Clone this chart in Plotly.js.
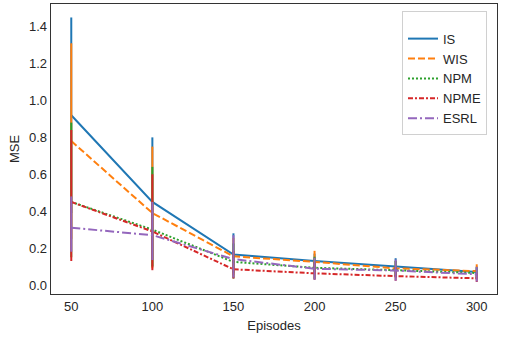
<!DOCTYPE html>
<html>
<head>
<meta charset="utf-8">
<script src="https://cdn.plot.ly/plotly-3.0.1.min.js"></script>
<style>
  html, body { margin: 0; padding: 0; background: #fff; }
  #plot { width: 508px; height: 338px; }
</style>
</head>
<body>
<div id="plot"></div>
<script>
// MSE against number of episodes, one line per estimator, with error bars
const episodes = [50, 100, 150, 200, 250, 300];

const isMse   = [0.92, 0.45, 0.165, 0.13, 0.10, 0.07];
const wisMse  = [0.78, 0.39, 0.155, 0.125, 0.09, 0.075];
const npmMse  = [0.45, 0.30, 0.125, 0.093, 0.08, 0.065];
const npmeMse = [0.45, 0.29, 0.085, 0.063, 0.048, 0.036];
const esrlMse = [0.31, 0.27, 0.14, 0.088, 0.078, 0.058];

// upper / lower error lengths
const isErrUp    = [0.53, 0.35, 0.115, 0.04, 0.045, 0.03];
const isErrDown  = [0.53, 0.35, 0.10, 0.06, 0.05, 0.04];
const wisErrUp   = [0.53, 0.36, 0.10, 0.06, 0.04, 0.037];
const wisErrDown = [0.53, 0.30, 0.10, 0.06, 0.04, 0.04];
const npmErrUp   = [0.43, 0.34, 0.10, 0.06, 0.05, 0.03];
const npmErrDown = [0.30, 0.20, 0.09, 0.06, 0.04, 0.03];
const npmeErrUp  = [0.39, 0.31, 0.10, 0.06, 0.05, 0.03];
const npmeErrDown= [0.32, 0.21, 0.05, 0.035, 0.025, 0.02];
const esrlErrUp  = [0.17, 0.18, 0.13, 0.06, 0.06, 0.04];
const esrlErrDown= [0.13, 0.135, 0.10, 0.06, 0.055, 0.04];

const series = [
    { name: 'IS',   y: isMse,   up: isErrUp,   down: isErrDown,   color: '#1f77b4', dash: 'solid' },
    { name: 'WIS',  y: wisMse,  up: wisErrUp,  down: wisErrDown,  color: '#ff7f0e', dash: '7px,3px' },
    { name: 'NPM',  y: npmMse,  up: npmErrUp,  down: npmErrDown,  color: '#2ca02c', dash: '2px,2px' },
    { name: 'NPME', y: npmeMse, up: npmeErrUp, down: npmeErrDown, color: '#d62728', dash: '5px,2px,2px,2px' },
    { name: 'ESRL', y: esrlMse, up: esrlErrUp, down: esrlErrDown, color: '#9467bd', dash: '9px,3px,2px,3px' }
];

const data = series.map(s => ({
    x: episodes,
    y: s.y,
    name: s.name,
    type: 'scatter',
    mode: 'lines',
    line: { color: s.color, width: 2, dash: s.dash },
    error_y: {
        type: 'data',
        symmetric: false,
        array: s.up,
        arrayminus: s.down,
        color: s.color,
        thickness: 2,
        width: 0
    }
}));

const axisCommon = {
    showgrid: false,
    zeroline: false,
    showline: true,
    mirror: true,
    linecolor: '#333',
    linewidth: 1.3,
    ticks: '',
    tickfont: { size: 13, color: '#262626' }
};

const layout = {
    width: 508,
    height: 338,
    margin: { l: 51, r: 11, t: 4, b: 44 },
    paper_bgcolor: '#fff',
    plot_bgcolor: '#fff',
    font: { family: 'Liberation Sans, Arial, sans-serif', color: '#262626' },
    showlegend: true,
    legend: {
        x: 0.787, y: 0.976, xanchor: 'left', yanchor: 'top',
        bgcolor: '#fff',
        bordercolor: '#d0d0d0',
        borderwidth: 1,
        font: { size: 13, color: '#262626' },
        title: { text: '&nbsp;', font: { size: 9 } }
    },
    xaxis: Object.assign({}, axisCommon, {
        range: [37.5, 312.5],
        tickvals: episodes,
        title: { text: 'Episodes', font: { size: 13 }, standoff: 8 }
    }),
    yaxis: Object.assign({}, axisCommon, {
        range: [-0.049, 1.523],
        tickvals: [0, 0.2, 0.4, 0.6, 0.8, 1.0, 1.2, 1.4],
        tickformat: '.1f',
        title: { text: 'MSE', font: { size: 13 }, standoff: 6 }
    })
};

Plotly.newPlot('plot', data, layout, { displayModeBar: false, staticPlot: true });
</script>
</body>
</html>
